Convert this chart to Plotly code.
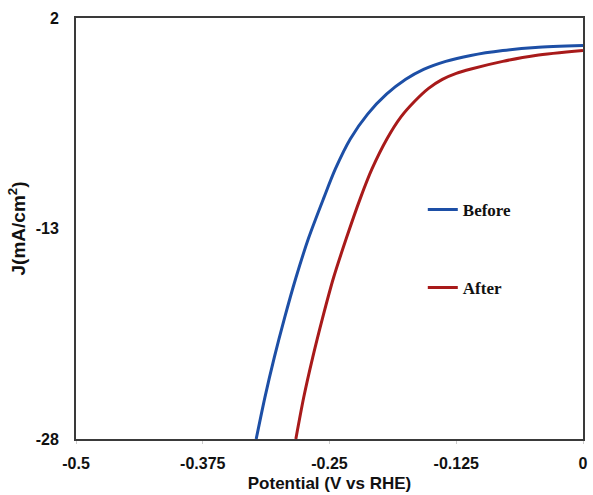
import plotly.graph_objects as go

# Data (Potential in V vs RHE, J in mA/cm2)
before_v = [-0.3223, -0.3137, -0.3045, -0.2943, -0.2832, -0.2707, -0.2559, -0.2441, -0.2295,
            -0.2124, -0.1938, -0.1748, -0.1572, -0.1354, -0.1107, -0.0791, -0.0469, 0.0]
before_j = [-28.0, -25.03, -22.20, -19.37, -16.53, -13.70, -10.87, -8.74, -6.62,
            -4.85, -3.43, -2.37, -1.66, -1.09, -0.67, -0.32, -0.10, 0.04]
after_v = [-0.2832, -0.2754, -0.2666, -0.2568, -0.2461, -0.2334, -0.2197, -0.2080, -0.1934,
           -0.1797, -0.1660, -0.1523, -0.1387, -0.1250, -0.1104, -0.0791, -0.0469, 0.0]
after_j = [-28.0, -25.03, -22.20, -19.37, -16.53, -13.70, -10.87, -8.74, -6.62,
           -5.06, -3.93, -3.01, -2.37, -1.94, -1.63, -1.09, -0.67, -0.32]

x_ticks = [-0.5, -0.375, -0.25, -0.125, 0]
x_tick_labels = ["-0.5", "-0.375", "-0.25", "-0.125", "0"]
y_ticks = [2, -13, -28]
y_tick_labels = ["2", "-13", "-28"]

fig = go.Figure()
fig.add_trace(go.Scatter(x=before_v, y=before_j, mode="lines", name="Before",
                         legendgroup="a",
                         line=dict(color="#1D4FA6", width=3, shape="spline", smoothing=0.8)))
fig.add_trace(go.Scatter(x=after_v, y=after_j, mode="lines", name="After",
                         legendgroup="b",
                         line=dict(color="#A81A1A", width=3, shape="spline", smoothing=0.8)))

sans = "Liberation Sans, Arial"

fig.update_layout(
    width=593, height=495,
    margin=dict(l=76, r=5, t=18, b=54),
    paper_bgcolor="white", plot_bgcolor="white",
    showlegend=True,
    legend=dict(x=0.684, y=0.587, xanchor="left", yanchor="top",
                font=dict(family="Liberation Serif, Times New Roman", size=17,
                          color="#111111", weight="bold"),
                tracegroupgap=53, bgcolor="rgba(0,0,0,0)"),
    xaxis=dict(range=[-0.5, 0], tickvals=x_ticks, ticktext=x_tick_labels,
               showgrid=False, zeroline=False, showline=True, linecolor="#3a3a3a",
               linewidth=2, mirror=True, ticks="outside", ticklen=3, tickcolor="#cccccc",
               tickfont=dict(family=sans, size=16, color="#111111", weight="bold"),
               ticklabelstandoff=6,
               title=dict(text="Potential (V vs RHE)",
                          font=dict(family=sans, size=17, color="#111111", weight="bold"),
                          standoff=6)),
    yaxis=dict(range=[-28, 2], tickvals=y_ticks, ticktext=y_tick_labels,
               showgrid=False, zeroline=False, showline=True, linecolor="#3a3a3a",
               linewidth=2, mirror=True, ticks="",
               tickfont=dict(family=sans, size=16, color="#111111", weight="bold"),
               ticklabelstandoff=12,
               title=dict(text="J(mA/cm<sup>2</sup>)",
                          font=dict(family=sans, size=19, color="#111111", weight="bold"),
                          standoff=5)),
)

fig.write_html("out.html")
